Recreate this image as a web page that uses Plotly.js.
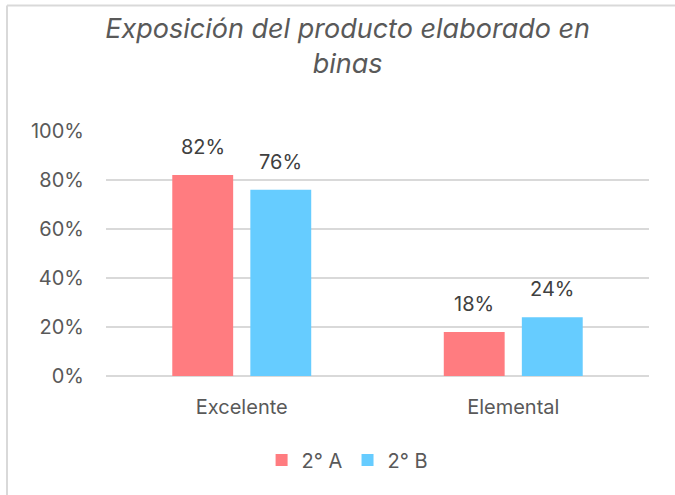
<!DOCTYPE html>
<html><head><meta charset="utf-8">
<script src="https://cdn.plot.ly/plotly-3.0.1.min.js"></script>
<style>html,body{margin:0;padding:0;background:#fff;}#chart{width:675px;height:495px;}</style>
</head><body><div id="chart"></div>
<script>
const categories = ['Excelente', 'Elemental'];
const series2A = [82, 18];
const series2B = [76, 24];
const seriesNames = ['2° A', '2° B'];
const yTicks = [0, 20, 40, 60, 80, 100];
const yTickText = yTicks.map(v => v + '%');

const font = "Inter, 'Noto Sans', sans-serif";
const traces = [
  {type:'bar', name:seriesNames[0], x:categories, y:series2A, marker:{color:'#FF7C80'}, hoverinfo:'y'},
  {type:'bar', name:seriesNames[1], x:categories, y:series2B, marker:{color:'#66CCFF'}, hoverinfo:'y'}
];
const ann = [];
[series2A, series2B].forEach((s, k) => {
  s.forEach((v, i) => ann.push({xref:'x', yref:'y', x:categories[i], y:v, xshift:(k===0?-39:39), yshift:14,
    text:v+'%', showarrow:false, yanchor:'bottom', font:{family:font, size:20, color:'#404040'}}));
});
const layout = {
  width:675, height:495,
  margin:{l:106, r:26, t:131, b:119},
  paper_bgcolor:'#fff', plot_bgcolor:'#fff',
  font:{family:font, color:'#595959'},
  title:{text:'<i>Exposición del producto elaborado en<br>binas</i>', x:0.515, xref:'container', xanchor:'center',
    y:0.923, yref:'container', yanchor:'middle', font:{family:font, size:27, color:'#595959'}},
  barmode:'group', bargap:0.425, bargroupgap:0.22,
  xaxis:{showgrid:false, zeroline:false, showline:false, ticks:'', tickfont:{size:20, color:'#595959', family:font}, ticklabelstandoff:17},
  yaxis:{range:[0,100], tickmode:'array', tickvals:yTicks, ticktext:yTickText, showgrid:true, gridcolor:'#D9D9D9', gridwidth:1.5,
    zeroline:true, zerolinecolor:'#D9D9D9', zerolinewidth:1.5, showline:false,
    tickfont:{size:20, color:'#595959', family:font}, ticklabelstandoff:21},
  showlegend:true,
  legend:{orientation:'h', x:0.444, xanchor:'center', y:-0.343, yanchor:'middle', font:{size:20, color:'#595959', family:font}, itemwidth:30, traceorder:'normal'},
  annotations:ann,
  shapes:[
    {type:'line', xref:'paper', yref:'paper', x0:(7-106)/543, x1:(675-106)/543, y0:(376-5.5)/245, y1:(376-5.5)/245, line:{color:'#D9D9D9', width:2}},
    {type:'line', xref:'paper', yref:'paper', x0:(7-106)/543, x1:(7-106)/543, y0:(376-5.5)/245, y1:(376-495)/245, line:{color:'#D9D9D9', width:2}}
  ]
};
Plotly.newPlot('chart', traces, layout, {displayModeBar:false, staticPlot:true});
</script></body></html>
